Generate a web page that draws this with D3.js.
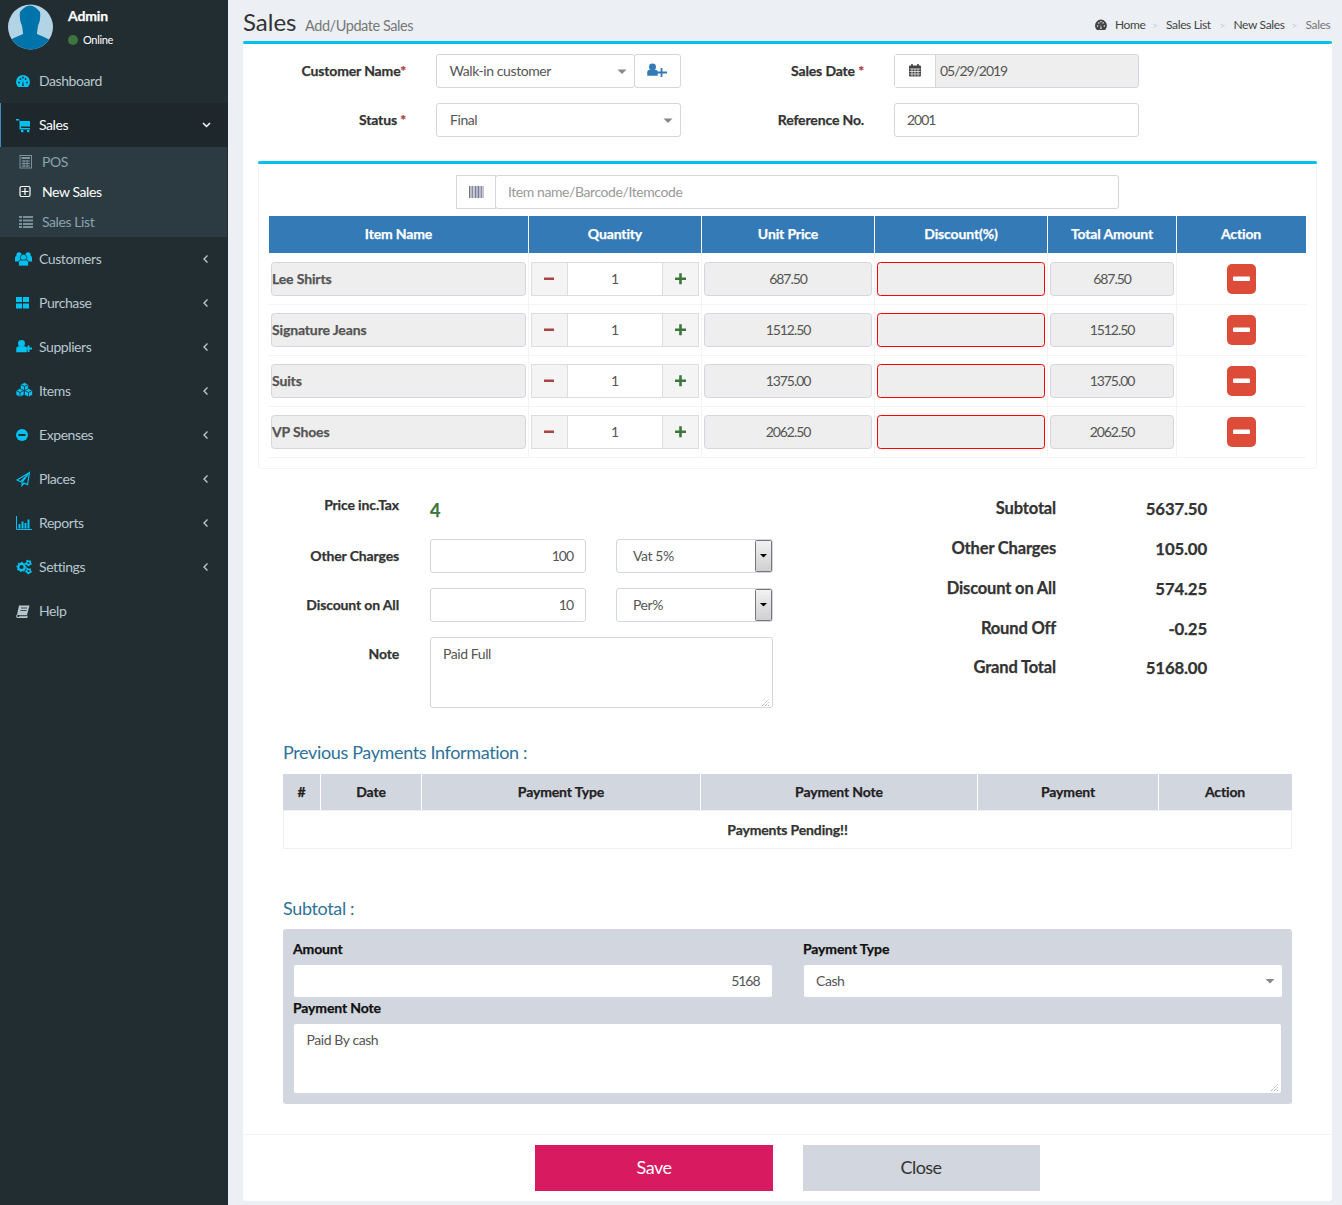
<!DOCTYPE html>
<html lang="en">
<head>
<meta charset="UTF-8">
<title>Sales</title>
<script src="https://cdn.jsdelivr.net/npm/d3@7"></script>
<style>
  html, body { margin: 0; padding: 0; background: #ecf0f5; overflow: hidden; }
  svg { display: block; }
  text { font-family: Lato, "Noto Sans", sans-serif; }
</style>
</head>
<body>
<div id="chart"></div>
<script>
// page content
const menuTop = ["Dashboard", "Sales"];
const menuBottom = ["Customers", "Purchase", "Suppliers", "Items", "Expenses", "Places", "Reports", "Settings", "Help"];
const subMenu = ["POS", "New Sales", "Sales List"];
const crumbs = ["Home", "Sales List", "New Sales", "Sales"];
const itemHeaders = ["Item Name", "Quantity", "Unit Price", "Discount(%)", "Total Amount", "Action"];
const itemNames = ["Lee Shirts", "Signature Jeans", "Suits", "VP Shoes"];
const quantities = [1, 1, 1, 1];
const unitPrices = ["687.50", "1512.50", "1375.00", "2062.50"];
const totalAmounts = ["687.50", "1512.50", "1375.00", "2062.50"];
const summaryLabels = ["Subtotal", "Other Charges", "Discount on All", "Round Off", "Grand Total"];
const summaryValues = ["5637.50", "105.00", "574.25", "-0.25", "5168.00"];
const paymentHeaders = ["#", "Date", "Payment Type", "Payment Note", "Payment", "Action"];

const svg = d3.select("#chart").append("svg").attr("width", 1342).attr("height", 1205);

const defs = svg.append("defs");
const spin = defs.append("linearGradient").attr("id", "spin").attr("x1", 0).attr("x2", 0).attr("y1", 0).attr("y2", 1);
spin.append("stop").attr("offset", "0").attr("stop-color", "#f2f2f2");
spin.append("stop").attr("offset", "1").attr("stop-color", "#cfcfcf");

function box(x0, y0, x1, y1, fill, stroke, r, parent) {
  return (parent || svg).append("rect")
    .attr("x", x0 + (stroke ? 0.5 : 0)).attr("y", y0 + (stroke ? 0.5 : 0))
    .attr("width", x1 - x0 - (stroke ? 1 : 0)).attr("height", y1 - y0 - (stroke ? 1 : 0))
    .attr("rx", r || 0)
    .attr("fill", fill || "none").attr("stroke", stroke || "none");
}
function label(x, y, str, size, weight, fill, anchor, parent) {
  const numeric = /^[\d.\/-]+$/.test(String(str));
  const t = (parent || svg).append("text")
    .attr("x", x).attr("y", y)
    .attr("font-size", size).attr("font-weight", weight || 400)
    .attr("fill", fill || "#555").attr("text-anchor", anchor || "start")
    .text(str);
  if (weight === 700) {
    // Lato bold is lighter than the original face
    t.attr("stroke", fill || "#555").attr("stroke-width", 0.25).attr("letter-spacing", "-0.01em");
  } else {
    t.attr("letter-spacing", numeric ? "-0.075em" : "-0.03em");
  }
  return t;
}
function path(g, d, fill, stroke, sw) {
  return g.append("path").attr("d", d).attr("fill", fill || "none")
    .attr("stroke", stroke || "none").attr("stroke-width", sw || 1);
}
function caret(x, y) {
  path(svg, `M${x},${y}h9l-4.5,4.5z`, "#888");
}
function person(g, cx, cy, k, col, edge) {
  g.append("circle").attr("cx", cx).attr("cy", cy - 3.4 * k).attr("r", 3.3 * k).attr("fill", col)
    .attr("stroke", edge || "none").attr("stroke-width", 0.7);
  path(g, `M${cx - 5 * k},${cy + 5 * k}v-3.5q0,-2.5 2.5,-2.5h${10 * k - 5}q2.5,0 2.5,2.5v3.5z`, col, edge, 0.7);
}

// small icons drawn around a 16x16 box
const icons = {
  Dashboard(g, c) {
    path(g, "M2.2,14A7,7 0 1 1 11.8,14z", c);
    g.selectAll("circle.d").data([[3, 9.5], [4.5, 6], [7, 4.5], [9.5, 6], [11, 9.5]]).join("circle")
      .attr("cx", d => d[0]).attr("cy", d => d[1]).attr("r", 0.9).attr("fill", "#222d32");
    path(g, "M6.2,13L7,7L7.8,13z", "#222d32");
  },
  Sales(g, c) {
    path(g, "M0,2h3l0.6,2h10.4v5.5h-9v1.5h9v1.5h-10.5v-8.5l-0.7,-0.6h-2.8z", c);
    g.selectAll("rect.w").data([5, 11]).join("rect")
      .attr("x", d => d).attr("y", 13).attr("width", 2.4).attr("height", 2.2).attr("fill", c);
  },
  Customers(g, c) {
    person(g, 3, 6.5, 0.8, c); person(g, 12, 6.5, 0.8, c);
    person(g, 7.5, 10, 1, c, "#222d32");
  },
  Purchase(g, c) {
    g.selectAll("rect").data([[0, 2], [7, 2], [0, 8.5], [7, 8.5]]).join("rect")
      .attr("x", d => d[0]).attr("y", d => d[1]).attr("width", 6).attr("height", 5).attr("fill", c);
  },
  Suppliers(g, c) {
    person(g, 5.5, 8, 1.05, c);
    path(g, "M9,9.5h7M12.5,6.5v6.5", null, c, 2);
  },
  Items(g, c) {
    [[8.5, 3.5], [4, 9.5], [12.5, 9.5]].forEach(p => {
      path(g, `M${p[0] - 4},${p[1] - 2}l4,-2l4,2v4.5l-4,2l-4,-2z`, c, "#222d32", 0.6);
      path(g, `M${p[0] - 4},${p[1] - 2}l4,2l4,-2M${p[0]},${p[1]}v4.5`, null, "#222d32", 0.8);
    });
  },
  Expenses(g, c) {
    g.append("circle").attr("cx", 6).attr("cy", 8).attr("r", 6).attr("fill", c);
    g.append("rect").attr("x", 2.5).attr("y", 7).attr("width", 7).attr("height", 2).attr("fill", "#222d32");
  },
  Places(g, c) {
    path(g, "M13.5,1.5L1,9l3.5,1.8L12,3.5L6,11.5l0,3l2,-2.4l3.5,1.5z", null, c, 1.2);
  },
  Reports(g, c) {
    path(g, "M0.5,1v13.5h15.5", null, c, 1);
    g.selectAll("rect").data([[2.5, 9, 2], [5.5, 6.5, 2], [8.5, 8, 2], [11.5, 4.5, 2]]).join("rect")
      .attr("x", d => d[0]).attr("y", d => d[1]).attr("width", d => d[2]).attr("height", d => 13.5 - d[1]).attr("fill", c);
  },
  Settings(g, c) {
    [[5.5, 8, 3.2, 2.2], [12.5, 4, 1.8, 1.5], [12.5, 12, 1.8, 1.5]].forEach(p => {
      g.append("circle").attr("cx", p[0]).attr("cy", p[1]).attr("r", p[2]).attr("fill", "none")
        .attr("stroke", c).attr("stroke-width", p[3]);
      g.append("circle").attr("cx", p[0]).attr("cy", p[1]).attr("r", p[2] + p[3] * 0.6).attr("fill", "none")
        .attr("stroke", c).attr("stroke-width", 1.2).attr("stroke-dasharray", "1.7 1.7");
    });
  },
  Help(g, c) {
    path(g, "M3,2.5h10.5l-2.5,9.5h-10z", c);
    path(g, "M1,12l-0.3,1.2q0,1.3 1.3,1.3h8.7l0.4,-1.2h-8", null, c, 1.1);
    path(g, "M5,5h6M4.5,7.5h6", null, "#222d32", 0.8);
  },
  POS(g, c) {
    box(0.5, 1, 13, 14.5, null, c, 0, g);
    box(2.5, 3, 11, 5, c, null, 0, g);
    path(g, "M2.5,7h8.5M2.5,9.5h8.5M2.5,12h8.5M5,6v7M8.2,6v7", null, c, 1);
  },
  "New Sales"(g, c) {
    box(0.5, 2, 11.5, 13, null, c, 1.5, g).attr("stroke-width", 1.2);
    path(g, "M2.5,7.5h7M6,4v7", null, c, 1.2);
  },
  "Sales List"(g, c) {
    [3, 6.5, 10, 13].forEach(y => {
      g.append("rect").attr("x", 0).attr("y", y - 1).attr("width", 3).attr("height", 2).attr("fill", c);
      g.append("rect").attr("x", 4).attr("y", y - 1).attr("width", 10).attr("height", 2).attr("fill", c);
    });
  }
};

// ---------- sidebar ----------
box(0, 0, 228, 1205, "#222d32");

// avatar
const avatar = svg.append("g");
avatar.append("clipPath").attr("id", "av").append("circle").attr("cx", 30.5).attr("cy", 27).attr("r", 22.5);
const avG = avatar.append("g").attr("clip-path", "url(#av)");
box(0, 0, 60, 60, "#b3d4e5", null, 0, avG);
path(avG, "M20,12q10,-13 20,0q1,8 -2,14q-1,6 -1,8q10,4 16,8v12h-46v-12q6,-4 16,-8q0,-2 -1,-8q-3,-6 -2,-14z", "#0073aa");
label(68, 21, "Admin", 14, 700, "#fff");
svg.append("circle").attr("cx", 73).attr("cy", 40).attr("r", 5).attr("fill", "#3c763d");
label(83, 44, "Online", 11, 400, "#fff");

const menuY = d3.scaleOrdinal(menuTop, [81, 125]);
const menuBottomY = d3.scalePoint(menuBottom, [259, 611]);
const subY = d3.scalePoint(subMenu, [162, 222]);

box(0, 103, 228, 147, "#1e282c");
box(0, 103, 1, 147, "#3c8dbc");
box(0, 147, 227, 237, "#2c3b41");

function menuRow(name, y, active) {
  const g = svg.append("g").attr("transform", `translate(16,${y - 8})`);
  icons[name](g, name === "Help" ? "#b8c7ce" : "#00c0ef");
  label(39, y + 5, name, 14, 400, active ? "#fff" : "#b8c7ce");
}
menuTop.forEach(m => menuRow(m, menuY(m), m === "Sales"));
menuBottom.forEach(m => {
  menuRow(m, menuBottomY(m));
  if (m !== "Help") {
    const y = menuBottomY(m);
    path(svg, `M207.5,${y - 3.5}l-3.5,3.5l3.5,3.5`, null, "#b8c7ce", 1.4);
  }
});
path(svg, "M203,123l3.5,3.5l3.5,-3.5", null, "#fff", 1.5);

subMenu.forEach(s => {
  const y = subY(s);
  const col = s === "New Sales" ? "#fff" : "#8aa4af";
  const g = svg.append("g").attr("transform", `translate(19,${y - 8})`);
  icons[s](g, s === "New Sales" ? "#fff" : "#7b929d");
  label(42, y + 5, s, 14, 400, col);
});

// ---------- page header ----------
label(243, 31, "Sales", 24, 400, "#333").attr("letter-spacing", "0");
label(305, 31, "Add/Update Sales", 14.5, 400, "#777");

const crumbX = d3.scaleOrdinal(crumbs, [1115, 1166, 1233.5, 1305.5]);
crumbs.forEach((c, i) => {
  label(crumbX(c), 29, c, 12, 400, i === 3 ? "#777" : "#444");
  if (i < 3) label(crumbX(crumbs[i + 1]) - 14, 28.5, ">", 10, 400, "#ccc");
});
const homeIcon = svg.append("g").attr("transform", "translate(1095,18) scale(0.85)");
icons.Dashboard(homeIcon, "#444");
homeIcon.selectAll("circle,path:last-child").attr("fill", "#ecf0f5");

// ---------- main box ----------
box(243, 41, 1332, 1201, "#fff", null, 3);
box(243, 41, 1332, 44, "#00c0ef", null, 1.5);

function field(x0, y0, x1, y1, fill) {
  return box(x0, y0, x1, y1, fill || "#fff", "#d2d6de", 2.5);
}
function required(xEnd, y, name, star) {
  const t = label(xEnd, y, name, 14, 700, "#333", "end");
  t.append("tspan").attr("fill", "#a94442").attr("stroke", "#a94442").text(star);
}
required(406, 76, "Customer Name", "*");
required(406, 125, "Status ", "*");
required(864, 76, "Sales Date ", "*");
label(864, 125, "Reference No.", 14, 700, "#333", "end");

field(436, 54, 635, 88);
label(449.5, 76, "Walk-in customer", 14);
caret(617.5, 69.5);
field(634, 54, 681, 88);
const addUser = svg.append("g").attr("transform", "translate(647,62.5)");
person(addUser, 5.5, 8, 1.05, "#337ab7");
path(addUser, "M9,10h11M14.5,5.5v9", null, "#337ab7", 1.8);

field(436, 103, 681, 137);
label(450, 125, "Final", 14);
caret(663.5, 118.5);

box(894, 54, 1139, 88, "#eee", "#d2d6de", 2.5);
box(895, 55, 935, 87, "#fff");
svg.append("line").attr("x1", 935.5).attr("x2", 935.5).attr("y1", 54).attr("y2", 88).attr("stroke", "#d2d6de");
const cal = svg.append("g").attr("transform", "translate(909,63.5)");
box(0, 2, 12, 13, "#444", null, 1, cal);
path(cal, "M0.5,5.5h11M0.5,8h11M0.5,10.5h11M3,5v8M6,5v8M9,5v8", null, "#fff", 0.7);
path(cal, "M3,0.5v3M9,0.5v3", null, "#444", 1.6);
label(940, 76, "05/29/2019", 14);

field(894, 103, 1139, 137);
label(907, 125, "2001", 14);

// ---------- items box ----------
box(258, 161, 1317, 469, "#fff", "#f4f4f4", 3);
box(258, 161, 1317, 164, "#00c0ef", null, 1.5);

box(456, 175, 496, 209, "#fff", "#d2d6de");
field(495, 175, 1119, 209);
const barcode = svg.append("g");
d3.range(0, 15, 1.5).forEach((x, i) => {
  barcode.append("rect").attr("x", 469 + x).attr("y", 186).attr("width", 1.3).attr("height", 12)
    .attr("fill", ["#778", "#aab", "#88a", "#bbb", "#779", "#9ab"][i % 6]);
});
label(508, 197, "Item name/Barcode/Itemcode", 14, 400, "#999");

const colEdges = [269, 529, 702, 875, 1048, 1177, 1306];
const colX = d3.scaleOrdinal(itemHeaders, colEdges);
const rowY = d3.scaleBand(itemNames, [253, 457]);

box(269, 216, 1306, 253, "#337ab7");
itemHeaders.forEach((h, i) => {
  const x0 = colX(h), x1 = colEdges[i + 1];
  label((x0 + x1) / 2 - 0.5, 239, h, 14, 700, "#fff", "middle");
  if (i > 0) box(x0 - 1, 216, x0, 253, "#fff");
  if (i > 0) box(x0 - 1, 253, x0, 457, "#f4f4f4");
});

itemNames.forEach((name, i) => {
  const top = rowY(name);
  const y0 = top + 9, y1 = y0 + 34, mid = y0 + 22;
  box(269, top + rowY.bandwidth(), 1306, top + rowY.bandwidth() + 1, "#f4f4f4");
  box(271, y0, 526, y1, "#eee", "#d2d6de", 3);
  label(272, mid, name, 14, 700, "#555");

  box(531, y0, 568, y1, "#f4f4f4", "#ddd");
  box(567, y0, 663, y1, "#fff", "#ddd");
  box(662, y0, 699, y1, "#f4f4f4", "#ddd");
  box(544, y0 + 15.5, 554, y0 + 18, "#a94442");
  path(svg, `M675,${y0 + 16.7}h11M680.5,${y0 + 11.2}v11`, null, "#3c763d", 2.6);
  label(614.5, mid, quantities[i], 14, 400, "#555", "middle");

  box(704, y0, 872, y1, "#eee", "#d2d6de", 3);
  label(788, mid, unitPrices[i], 14, 400, "#555", "middle");
  box(877, y0, 1045, y1, "#eee", "#f00", 3);
  box(1050, y0, 1174, y1, "#eee", "#d2d6de", 3);
  label(1112, mid, totalAmounts[i], 14, 400, "#555", "middle");

  box(1227, y0 + 2, 1256, y0 + 32, "#dd4b39", null, 5);
  box(1233, y0 + 14.5, 1250, y0 + 19, "#fff", null, 1);
});

// ---------- totals ----------
label(399, 510, "Price inc.Tax", 14, 700, "#333", "end");
label(430, 517, "4", 18, 700, "#3c763d");
label(399, 561, "Other Charges", 14, 700, "#333", "end");
label(399, 610, "Discount on All", 14, 700, "#333", "end");
label(399, 659, "Note", 14, 700, "#333", "end");

field(430, 539, 586, 573);
label(573, 561, "100", 14, 400, "#555", "end");
field(430, 588, 586, 622);
label(573, 610, "10", 14, 400, "#555", "end");

function nativeSelect(y0, text) {
  field(616, y0, 773, y0 + 34);
  label(633, y0 + 22, text, 14);
  box(755, y0 + 1, 772, y0 + 33, "url(#spin)", "#777", 1);
  path(svg, `M760,${y0 + 15}h7l-3.5,3.5z`, "#000");
}
nativeSelect(539, "Vat 5%");
nativeSelect(588, "Per%");

function grip(x, y) {
  path(svg, `M${x},${y}l7,-7M${x + 3},${y}l4,-4M${x + 6},${y}l1,-1`, null, "#999", 1).attr("stroke-dasharray", "1 1");
}
field(430, 637, 773, 708);
label(443, 659, "Paid Full", 14);
grip(762, 706);

const summaryY = d3.scaleOrdinal(summaryLabels, [514, 554, 594, 634, 673]);
summaryLabels.forEach((s, i) => {
  label(1056, summaryY(s), s, 16.5, 700, "#333", "end");
  label(1207, summaryY(s) + 1, summaryValues[i], 16.8, 700, "#333", "end");
});

// ---------- previous payments ----------
label(283, 759, "Previous Payments Information :", 18, 400, "#2f7299").attr("letter-spacing", "-0.02em");

const payEdges = [283, 321, 422, 701, 978, 1159, 1292];
const payX = d3.scaleOrdinal(paymentHeaders, payEdges);
box(283, 774, 1292, 810, "#d2d6de");
box(283, 810, 1292, 849, "#fff", "#f0f0f0");
paymentHeaders.forEach((h, i) => {
  const x0 = payX(h), x1 = payEdges[i + 1];
  label((x0 + x1) / 2 - 0.5, 797, h, 14, 700, "#222", "middle");
  if (i > 0) box(x0 - 1, 774, x0, 810, "#fff");
});
label(787.5, 835, "Payments Pending!!", 14, 700, "#333", "middle");

// ---------- payment form ----------
label(283, 915, "Subtotal :", 18, 400, "#2f7299").attr("letter-spacing", "-0.02em");
box(283, 929, 1292, 1104, "#d2d6de", null, 3);
label(293, 954, "Amount", 14, 700, "#111");
label(803, 954, "Payment Type", 14, 700, "#111");
label(293, 1013, "Payment Note", 14, 700, "#111");

box(294, 965, 772, 997, "#fff", null, 2);
label(759.5, 986, "5168", 14, 400, "#555", "end");
box(804, 965, 1282, 997, "#fff", null, 2);
label(816, 986, "Cash", 14);
caret(1265.5, 979);
box(294, 1024, 1281, 1093, "#fff", null, 2);
label(306.5, 1045, "Paid By cash", 14);
grip(1271, 1091);

// ---------- footer ----------
box(243, 1134, 1332, 1135, "#f4f4f4");
box(535, 1145, 773, 1191, "#d81b60");
label(654, 1174, "Save", 18, 400, "#fff", "middle");
box(803, 1145, 1040, 1191, "#d2d6de");
label(921, 1174, "Close", 18, 400, "#333", "middle");
</script>
</body>
</html>
